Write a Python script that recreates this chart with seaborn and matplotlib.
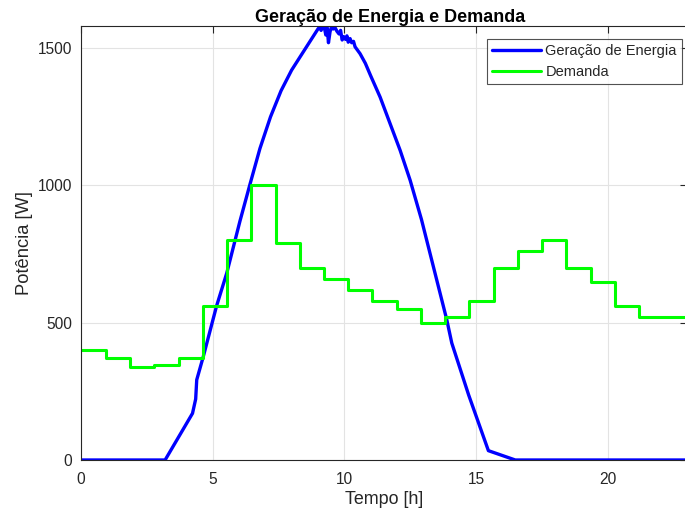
import numpy as np
import pandas as pd
import matplotlib
matplotlib.use("Agg")
import matplotlib.pyplot as plt
import seaborn as sns

# ---- data ----
gen_hours = [0.0, 3.20, 4.24, 4.36, 4.40, 4.65, 5.15, 5.54, 6.04, 6.42, 6.80, 7.20,
             7.60, 8.00, 8.40, 8.70, 8.90, 9.00, 9.06, 9.12, 9.18, 9.25, 9.30, 9.35,
             9.40, 9.46, 9.52, 9.58, 9.65, 9.72, 9.80, 9.86, 9.92, 9.98, 10.05, 10.10,
             10.15, 10.22, 10.28, 10.35, 10.41, 10.60, 10.80, 11.00, 11.36, 11.74, 12.12,
             12.50, 12.93, 13.89, 14.08, 14.72, 15.47, 16.49, 23.0]
gen_power = [0, 0, 170, 222, 292, 377, 560, 681, 870, 1004, 1135, 1250,
             1345, 1420, 1480, 1525, 1555, 1570, 1577, 1565, 1578, 1572, 1548, 1575,
             1520, 1560, 1580, 1570, 1575, 1562, 1552, 1565, 1530, 1542, 1532, 1545,
             1522, 1535, 1520, 1525, 1505, 1480, 1445, 1400, 1322, 1225, 1128,
             1019, 876, 511, 426, 237, 34, 0, 0]

dem_hours = [0.0, 0.94, 1.87, 2.79, 3.71, 4.63, 5.55, 6.47, 7.39, 8.31, 9.23, 10.15,
             11.07, 11.99, 12.91, 13.83, 14.75, 15.67, 16.59, 17.51, 18.43, 19.35,
             20.27, 21.19, 23.0]
dem_power = [400, 370, 340, 345, 370, 560, 800, 1000, 790, 700, 660, 620,
             580, 550, 500, 520, 580, 700, 760, 800, 700, 650, 560, 520, 520]

xticks = [0, 5, 10, 15, 20]
yticks = [0, 500, 1000, 1500]

title = "Geração de Energia e Demanda"
xlabel = "Tempo [h]"
ylabel = "Potência [W]"
label_gen = "Geração de Energia"
label_dem = "Demanda"

# ---- plot ----
sns.set_style("white")
plt.rcParams['font.family'] = ['Liberation Sans', 'DejaVu Sans']

df_gen = pd.DataFrame({"t": gen_hours, "p": gen_power})
df_dem = pd.DataFrame({"t": dem_hours, "p": dem_power})

fig = plt.figure(figsize=(6.85, 5.14), dpi=100)
ax = fig.add_axes([80.8 / 685, 54 / 514, 606 / 685, 434.3 / 514])

sns.lineplot(data=df_gen, x="t", y="p", ax=ax, color=(0, 0, 1), linewidth=2.4,
             label=label_gen, estimator=None, sort=False)
sns.lineplot(data=df_dem, x="t", y="p", ax=ax, color=(0, 1, 0), linewidth=2.2,
             label=label_dem, estimator=None, sort=False, drawstyle="steps-post")

ax.set_xlim(0, 23)
ax.set_ylim(0, 1582)
ax.set_xticks(xticks)
ax.set_yticks(yticks)
ax.grid(True, color="#e3e3e3", linewidth=0.8)
ax.set_axisbelow(True)
for s in ax.spines.values():
    s.set_color("#262626")
    s.set_linewidth(0.8)
    s.set_visible(True)
ax.tick_params(direction="in", length=5, width=0.8, colors="#262626",
               labelsize=11.2, top=True, right=True, labeltop=False, labelright=False)
ax.tick_params(axis="x", pad=8.5)
ax.tick_params(axis="y", pad=6.5)
ax.set_xlabel(xlabel, fontsize=12.9, color="#262626", labelpad=3)
ax.set_ylabel(ylabel, fontsize=13.2, color="#262626", labelpad=3.5)
ax.set_title(title, fontsize=13, fontweight="bold", color="black", pad=2.5,
             x=0.510)

leg = ax.legend(loc="upper right", bbox_to_anchor=(0.992, 0.9694), fontsize=10.5,
                frameon=True, fancybox=False, edgecolor="#262626",
                handlelength=3.36, handletextpad=0.3, borderpad=0.35,
                labelspacing=0.45, borderaxespad=0.0)
leg.get_frame().set_linewidth(0.8)

fig.savefig("out.png", dpi=100)
